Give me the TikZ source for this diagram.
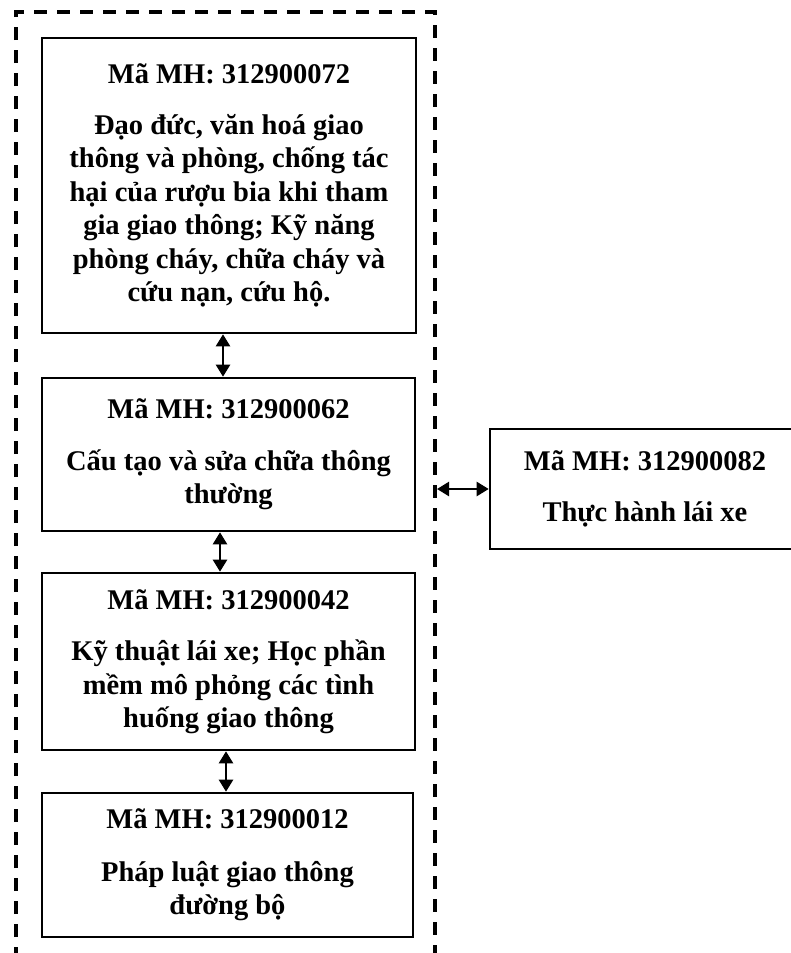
\documentclass[tikz,border=0pt]{standalone}
\usepackage{fontspec}
\setmainfont{Liberation Serif}
\usetikzlibrary{arrows.meta}
\begin{document}
\begin{tikzpicture}[x=1pt,y=-1pt,
  box/.style={draw,line width=2.6pt,minimum width=#1,inner sep=0pt,align=center,
    font=\fontsize{28.5}{33.5}\selectfont\bfseries},
  link/.style={line width=2.4pt,{Triangle[length=12pt,width=14pt]}-{Triangle[length=12pt,width=14pt]}},
  frame/.style={line width=3.4pt,dash pattern=on 13pt off 10pt}]
\useasboundingbox (0,0) rectangle (791,953);
\draw[frame] (16,960) -- (16,12) -- (435,12) -- (435,960);
\coordinate (fr) at (435,489);
\node[box=374pt,minimum height=295pt] (b1) at (229,185.5) {Mã MH: 312900072\\[17pt]Đạo đức, văn hoá giao\\thông và phòng, chống tác\\hại của rượu bia khi tham\\gia giao thông; Kỹ năng\\phòng cháy, chữa cháy và\\cứu nạn, cứu hộ.};
\node[box=373pt,minimum height=153pt] (b2) at (228.5,454.5) {Mã MH: 312900062\\[18pt]Cấu tạo và sửa chữa thông\\thường};
\node[box=373pt,minimum height=177pt] (b3) at (228.5,661.5) {Mã MH: 312900042\\[18pt]Kỹ thuật lái xe; Học phần\\mềm mô phỏng các tình\\huống giao thông};
\node[box=371pt,minimum height=144pt] (b4) at (227.5,865) {Mã MH: 312900012\\[19pt]Pháp luật giao thông\\đường bộ};
\node[box=310pt,minimum height=120pt] (r) at (645,489) {Mã MH: 312900082\\[18pt]Thực hành lái xe};
\draw[link] ([xshift=-6pt]b1.south) -- ([xshift=-6pt]b1.south |- b2.north);
\draw[link] ([xshift=-8.5pt]b2.south) -- ([xshift=-8.5pt]b2.south |- b3.north);
\draw[link] ([xshift=-2.5pt]b3.south) -- ([xshift=-2.5pt]b3.south |- b4.north);
\draw[link] ([xshift=2pt]fr) -- (r.west |- fr);
\end{tikzpicture}
\end{document}
